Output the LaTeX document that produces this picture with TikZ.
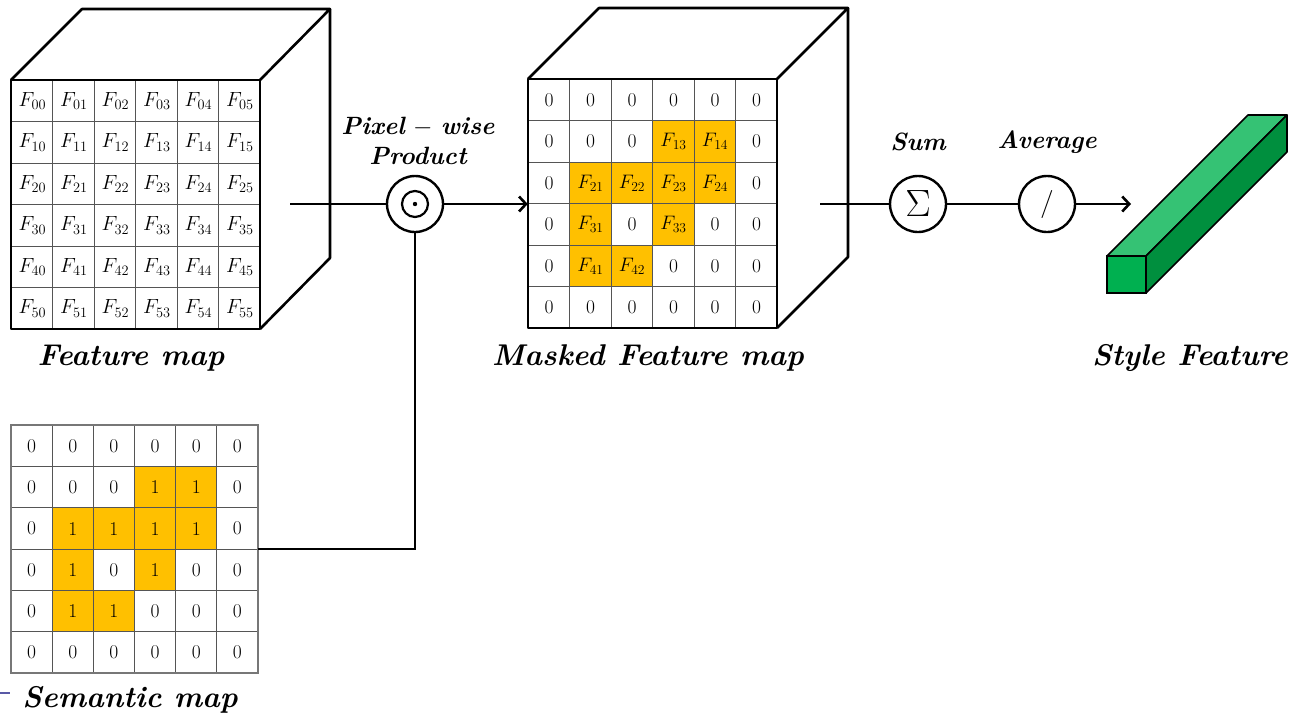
\RequirePackage{fix-cm}
\documentclass[tikz,border=0pt]{standalone}
\usetikzlibrary{arrows.meta}
\definecolor{orng}{HTML}{FFC000}
\definecolor{gfront}{HTML}{00B050}
\definecolor{gtop}{HTML}{35C274}
\definecolor{gside}{HTML}{008F3E}
\definecolor{gridc}{HTML}{555555}
\begin{document}
\begin{tikzpicture}[x=1pt,y=-1pt,
  cubeedge/.style={line width=2.6pt,line join=round},
  gridline/.style={line width=1pt,draw=gridc},
  face/.style={draw=none,minimum width=249pt,minimum height=249pt,inner sep=0pt},
  cell/.style={font=\fontsize{19.5}{19.5}\selectfont,inner sep=0pt},
  lbl/.style={font=\fontsize{30}{30}\selectfont\bfseries\itshape},
  slbl/.style={font=\fontsize{25}{25}\selectfont\bfseries\itshape},
  conn/.style={line width=2.8pt},
  op/.style={circle,draw,line width=2.4pt,minimum size=56pt,inner sep=0pt,fill=white},
  tip/.style={-{Straight Barb[length=7pt,width=15pt,line width=2.6pt]}}
]
\useasboundingbox (0,0) rectangle (1293,716);
\fill[white] (0,0) rectangle (1293,716);

% ---------- Feature map cube ----------
\draw[cubeedge] (11,80) -- (82,9) -- (330,9) -- (260,80);
\draw[cubeedge] (330,9) -- (330,258) -- (260,329);
\node[face] (fface) at (135.5,204.5) {};
\foreach \i in {1,...,5}{
  \draw[gridline] (11,80+41.5*\i) -- (260,80+41.5*\i);
  \draw[gridline] (11+41.5*\i,80) -- (11+41.5*\i,329);
}
\foreach \i in {0,...,5}{
  \foreach \j in {0,...,5}{
    \node[cell,font=\fontsize{20.5}{20.5}\selectfont] (f\i\j) at (11+41.5*\j+21.5,80+41.5*\i+21) {$F_{\i\j}$};
  }
}
\draw[cubeedge] (11,80) rectangle (260,329);

% ---------- Masked feature map cube ----------
\draw[cubeedge] (528,79) -- (599,8) -- (848,8) -- (777,79);
\draw[cubeedge] (848,8) -- (848,257) -- (777,328);
\node[face] (mface) at (652.5,203.5) {};
\foreach \i/\j in {1/3,1/4,2/1,2/2,2/3,2/4,3/1,3/3,4/1,4/2}{
  \fill[orng] (528+41.5*\j,79+41.5*\i) rectangle ++(41.5,41.5);
}
\foreach \i in {1,...,5}{
  \draw[gridline] (528,79+41.5*\i) -- (777,79+41.5*\i);
  \draw[gridline] (528+41.5*\i,79) -- (528+41.5*\i,328);
}
\foreach \i/\row in {0/{0,0,0,0,0,0},1/{0,0,0,$F_{13}$,$F_{14}$,0},2/{0,$F_{21}$,$F_{22}$,$F_{23}$,$F_{24}$,0},3/{0,$F_{31}$,0,$F_{33}$,0,0},4/{0,$F_{41}$,$F_{42}$,0,0,0},5/{0,0,0,0,0,0}}{
  \foreach \c [count=\j from 0] in \row {
    \node[cell] (m\i\j) at (528+41.5*\j+21,79+41.5*\i+21) {\c};
  }
}
\draw[cubeedge] (528,79) rectangle (777,328);

% ---------- Semantic map ----------
\node[face,minimum width=247pt,minimum height=248pt] (sface) at (134.5,549) {};
\foreach \i/\j in {1/3,1/4,2/1,2/2,2/3,2/4,3/1,3/3,4/1,4/2}{
  \fill[orng] (11+41.17*\j,425+41.33*\i) rectangle ++(41.17,41.33);
}
\foreach \i in {1,...,5}{
  \draw[gridline] (11,425+41.33*\i) -- (258,425+41.33*\i);
  \draw[gridline] (11+41.17*\i,425) -- (11+41.17*\i,673);
}
\draw[line width=1.2pt,draw=gridc!80!white] (11,425) rectangle (258,673);
\foreach \i/\row in {0/{0,0,0,0,0,0},1/{0,0,0,1,1,0},2/{0,1,1,1,1,0},3/{0,1,0,1,0,0},4/{0,1,1,0,0,0},5/{0,0,0,0,0,0}}{
  \foreach \c [count=\j from 0] in \row {
    \node[cell] (s\i\j) at (11+41.17*\j+20.6,425+41.33*\i+21) {\c};
  }
}

% ---------- operators ----------
\node[op] (prod) at (415,204) {};
\draw[line width=2.2pt] (prod.center) circle (13pt);
\fill (prod.center) circle (2.2pt);
\node[op,font=\fontsize{38}{38}\selectfont] (sum) at (918,204) {$\Sigma$};
\node[op,font=\fontsize{28}{28}\selectfont] (avg) at (1047,204) {$/$};

% ---------- connectors ----------
\coordinate (fstart) at (290,204);
\coordinate (mstart) at (820,204);
\coordinate (gend) at (1131,204);
\draw[conn] (fstart) -- (prod);
\draw[conn,tip] (prod) -- (mface.west |- prod);
\draw[conn] (prod.south) |- (sface.east);
\draw[conn] (mstart) -- (sum);
\draw[conn] (sum) -- (avg);
\draw[conn,tip] (avg) -- (gend);

% ---------- style feature bar ----------
\draw[line width=1.6pt,line join=round,fill=gtop] (1107,256) -- (1248,115) -- (1287,115) -- (1146,256) -- cycle;
\draw[line width=1.6pt,line join=round,fill=gside] (1146,256) -- (1287,115) -- (1287,152) -- (1146,293) -- cycle;
\draw[line width=1.6pt,fill=gfront] (1107,256) rectangle (1146,293);

% ---------- labels ----------
\node[lbl] (lf) at (131,358) {Feature map};
\node[lbl] (lm) at (648,358) {Masked Feature map};
\node[lbl] (ls) at (1190,358) {Style Feature};
\node[lbl] (lsem) at (130,700) {Semantic map};
\node[slbl] (lp1) at (418,127) {Pixel\,\,$-$\,\,wise};
\node[slbl] (lp2) at (418,156) {Product};
\node[slbl] (lsum) at (918,142) {Sum};
\node[slbl] (lavg) at (1047,142) {Average};

\draw[line width=1.2pt,draw=blue!30!gray] (0,693) -- (10,693);
\end{tikzpicture}
\end{document}
